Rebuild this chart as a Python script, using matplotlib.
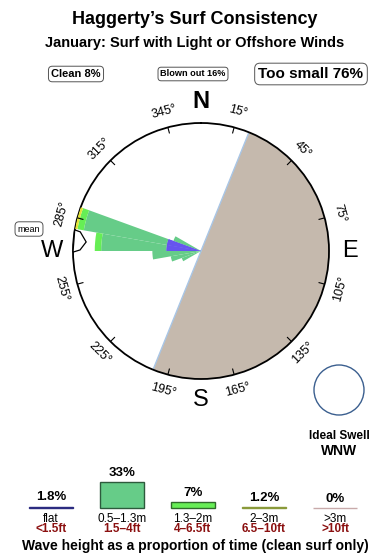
import numpy as np
import matplotlib
matplotlib.use("Agg")
import matplotlib.pyplot as plt
from matplotlib.patches import Circle, Polygon

plt.rcParams['font.family'] = ['Liberation Sans', 'DejaVu Sans']

# ---------------- data ----------------
title = "Haggerty\u2019s Surf Consistency"
subtitle = "January: Surf with Light or Offshore Winds"
summary_labels = ["Clean 8%", "Blown out 16%", "Too small 76%"]

# rose direction bins (degrees, centre of bin) and stacked fractions of the rose radius
rose_dirs = [245, 255, 265, 275, 285, 295]
rose_flat = [0.0, 0.0, 0.0, 0.27, 0.27, 0.0]
rose_05_13 = [0.16, 0.24, 0.38, 0.51, 0.66, 0.23]
rose_13_2 = [0.0, 0.0, 0.0, 0.05, 0.05, 0.0]
rose_2_3 = [0.0, 0.0, 0.0, 0.0, 0.02, 0.0]
rose_3p = [0.0, 0.0, 0.0, 0.0, 0.0, 0.0]

shore_from, shore_to = 22, 202      # land sector (degrees)
mean_dir = 274.5
tick_degrees = list(range(15, 360, 30))
compass = {"N": 0, "E": 90, "S": 180, "W": 270}

ideal_swell = "WNW"

height_pct = [1.8, 33, 7, 1.2, 0]
height_pct_labels = ["1.8%", "33%", "7%", "1.2%", "0%"]
height_m = ["flat", "0.5\u20131.3m", "1.3\u20132m", "2\u20133m", ">3m"]
height_ft = ["<1.5ft", "1.5\u20134ft", "4\u20136.5ft", "6.5\u201310ft", ">10ft"]

# ---------------- styles ----------------
fills = ["#6655ee", "#66cc88", "#66ee55", "#e2e23a", "#ee8888"]
edges = ["#2b2b80", "#2d5a3c", "#2f6a2a", "#8a9a3a", "#c8aaaa"]
land_col = "#c5b9ad"
red = "#8b1010"

W, H = 390, 560
fig = plt.figure(figsize=(W / 100, H / 100), dpi=100)


def fx(x):
    return x / W


def fy(y):
    return 1 - y / H


# titles
fig.text(fx(195), fy(20), title, ha="center", va="center", fontsize=13, fontweight="bold")
fig.text(fx(195), fy(43), subtitle, ha="center", va="center", fontsize=10.5, fontweight="bold")

box = dict(boxstyle="round,pad=0.25,rounding_size=0.35", fc="white", ec="#555555", lw=0.7)
fig.text(fx(76), fy(74), summary_labels[0], ha="center", va="center", fontsize=8, fontweight="bold", bbox=box)
fig.text(fx(193), fy(74), summary_labels[1], ha="center", va="center", fontsize=6.6, fontweight="bold", bbox=box)
fig.text(fx(311), fy(74), summary_labels[2], ha="center", va="center", fontsize=11, fontweight="bold", bbox=box)

# ---------------- rose ----------------
cx, cy, R = 201, 251, 128
ax = fig.add_axes([fx(cx - R), fy(cy + R), 2 * R / W, 2 * R / H], projection="polar")
ax.set_theta_zero_location("N")
ax.set_theta_direction(-1)
ax.set_ylim(0, 1)
ax.set_xticks([])
ax.set_yticks([])
ax.grid(False)
ax.spines["polar"].set_linewidth(1.3)

# land
ax.bar(np.deg2rad((shore_from + shore_to) / 2), 1.0, width=np.deg2rad(shore_to - shore_from),
       color=land_col, linewidth=0, zorder=1)
for d in (shore_from, shore_to):
    ax.plot([np.deg2rad(d)] * 2, [0, 1], color="#a9c6e6", lw=1.0, zorder=2)

# stacked rose
theta = np.deg2rad(rose_dirs)
width = np.deg2rad(10)
bottom = np.zeros(len(rose_dirs))
for vals, c in zip([rose_flat, rose_05_13, rose_13_2, rose_2_3, rose_3p], fills):
    v = np.array(vals)
    ax.bar(theta, v, width=width, bottom=bottom, color=c, linewidth=0, zorder=3)
    bottom = bottom + v
ax.bar(theta, rose_flat, width=width, bottom=0, color=fills[0], linewidth=0, zorder=4)

# degree ticks and labels
for d in tick_degrees:
    t = np.deg2rad(d)
    ax.plot([t, t], [0.955, 1.0], color="k", lw=0.8, zorder=5)
    rot = -d if (d < 90 or d > 270) else 180 - d
    ax.text(t, 1.125, f"{d}\u00b0", rotation=rot, rotation_mode="anchor",
            ha="center", va="center", fontsize=9, clip_on=False)

for lab, d in compass.items():
    ax.text(np.deg2rad(d), 1.165, lab, ha="center", va="center", fontsize=17,
            fontweight="bold" if lab == "N" else "normal", clip_on=False)

# mean arrow marker
mean_pts = [(mean_dir + 5, 1.0), (mean_dir + 4.5, 0.955), (mean_dir, 0.9),
            (mean_dir - 4, 0.945), (mean_dir - 5, 1.0)]
ax.add_patch(Polygon([(np.deg2rad(a), r) for a, r in mean_pts], closed=True,
                     fc="white", ec="k", lw=0.9, zorder=6, clip_on=False))
fig.text(fx(29), fy(229), "mean", ha="center", va="center", fontsize=6.5,
         bbox=dict(boxstyle="round,pad=0.3,rounding_size=0.45", fc="white", ec="#555555", lw=0.7))

# ideal swell circle
cax = fig.add_axes([fx(339 - 26), fy(390 + 26), 52 / W, 52 / H])
cax.set_xlim(-26, 26)
cax.set_ylim(-26, 26)
cax.add_patch(Circle((0, 0), 25, fc="white", ec="#3b5f8f", lw=1.0))
cax.set_axis_off()
fig.text(fx(339), fy(436), "Ideal Swell", ha="center", va="center", fontsize=8.5, fontweight="bold")
fig.text(fx(339), fy(451), ideal_swell, ha="center", va="center", fontsize=10, fontweight="bold")

# ---------------- wave height legend ----------------
px_per_pct = 26 / 33
top_px = 60
lax = fig.add_axes([fx(15.5), fy(508), 355 / W, top_px / H])
lax.set_xlim(-0.5, 4.5)
lax.set_ylim(0, top_px / px_per_pct)
lax.set_axis_off()
xs = np.arange(len(height_pct))
lax.bar(xs, height_pct, width=0.62, color=fills, edgecolor=edges, linewidth=1.0, clip_on=False)
for i in xs:
    lax.annotate(height_pct_labels[i], (i, height_pct[i]), xytext=(0, 2.5), textcoords="offset points",
                 ha="center", va="bottom", fontsize=9.5, fontweight="bold")
    fig.text(fx(51 + 71 * i), fy(518.5), height_m[i], ha="center", va="center", fontsize=8.5)
    fig.text(fx(51 + 71 * i), fy(529.5), height_ft[i], ha="center", va="center", fontsize=8.5,
             fontweight="bold", color=red)
fig.text(fx(195), fy(546), "Wave height as a proportion of time (clean surf only)",
         ha="center", va="center", fontsize=10, fontweight="bold")

fig.savefig("out.png", dpi=100)
